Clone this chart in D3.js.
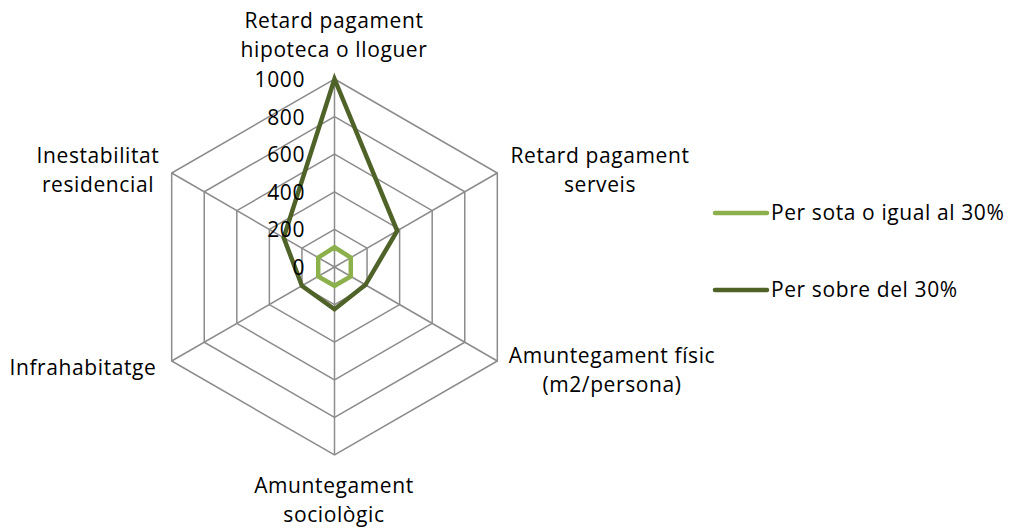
<!DOCTYPE html>
<html>
<head>
<meta charset="utf-8">
<script src="https://cdn.jsdelivr.net/npm/d3@7"></script>
<style>
  body { margin: 0; background: #fff; }
  svg text { font-family: "Open Sans", Lato, sans-serif; fill: #000; letter-spacing: 0.6px; }
</style>
</head>
<body>
<div id="chart"></div>
<script>
const axes = [
  ["Retard pagament", "hipoteca o lloguer"],
  ["Retard pagament", "serveis"],
  ["Amuntegament físic", "(m2/persona)"],
  ["Amuntegament", "sociològic"],
  ["Infrahabitatge"],
  ["Inestabilitat", "residencial"]
];
const seriesNames = ["Per sota o igual al 30%", "Per sobre del 30%"];
const belowValues = [105, 100, 100, 100, 100, 100];
const aboveValues = [1000, 385, 190, 225, 200, 312];
const ticks = [0, 200, 400, 600, 800, 1000];

const width = 1017;
const height = 528;
const cx = 334.5, cy = 267;
const colors = ["#8cb04c", "#4f6228"];

const svg = d3.select("#chart")
  .append("svg")
  .attr("width", width)
  .attr("height", height);

const r = d3.scaleLinear().domain([0, 1000]).range([0, 188]);
const angle = i => i * Math.PI / 3;   // 0 = up, clockwise
const pt = (i, v) => [cx + r(v) * Math.sin(angle(i)), cy - r(v) * Math.cos(angle(i))];

// grid rings
const grid = svg.append("g")
  .attr("stroke", "#8c8c8c")
  .attr("stroke-width", 1.5)
  .attr("fill", "none");

ticks.filter(t => t > 0).forEach(t => {
  grid.append("path")
    .attr("d", d3.line()(axes.map((a, i) => pt(i, t))) + "Z");
});

axes.forEach((a, i) => {
  const p = pt(i, 1000);
  grid.append("line")
    .attr("x1", cx).attr("y1", cy)
    .attr("x2", p[0]).attr("y2", p[1]);
});

// series
[belowValues, aboveValues].forEach((vals, k) => {
  svg.append("path")
    .attr("d", d3.line()(vals.map((v, i) => pt(i, v))) + "Z")
    .attr("fill", "none")
    .attr("stroke", colors[k])
    .attr("stroke-width", 4.5)
    .attr("stroke-linejoin", "miter");
});

// tick labels
svg.append("g").selectAll("text")
  .data(ticks)
  .enter()
  .append("text")
  .attr("x", 305)
  .attr("y", d => cy - r(d) + 8)
  .attr("text-anchor", "end")
  .attr("font-size", 21)
  .text(d => d);

// axis labels
const labelPos = [
  [334, 28], [600, 163], [612, 363], [334, 493], [83, 375], [98, 163]
];
axes.forEach((lines, i) => {
  const t = svg.append("text")
    .attr("text-anchor", "middle")
    .attr("font-size", 21);
  lines.forEach((s, j) => {
    t.append("tspan")
      .attr("x", labelPos[i][0])
      .attr("y", labelPos[i][1] + j * 29)
      .text(s);
  });
});

// legend
const legend = svg.append("g");
seriesNames.forEach((name, k) => {
  const y = 213 + k * 77;
  legend.append("line")
    .attr("x1", 715).attr("x2", 767)
    .attr("y1", y).attr("y2", y)
    .attr("stroke", colors[k])
    .attr("stroke-width", 4.5)
    .attr("stroke-linecap", "round");
  legend.append("text")
    .attr("x", 771)
    .attr("y", y + 7)
    .attr("font-size", 21)
    .text(name);
});
</script>
</body>
</html>
